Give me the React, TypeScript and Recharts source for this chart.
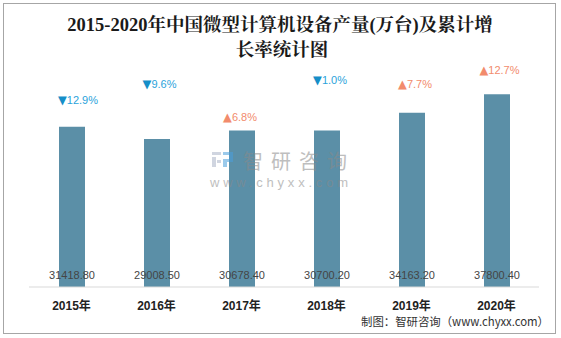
import React from 'react';
import { BarChart, Bar, XAxis, YAxis, LabelList } from 'recharts';

// ---- data ----
const years = ['2015年', '2016年', '2017年', '2018年', '2019年', '2020年'];
const output = [31418.8, 29008.5, 30678.4, 30700.2, 34163.2, 37800.4];
const growth = [-12.9, -9.6, 6.8, -1.0, 7.7, 12.7];
const yMax = 40000;

const data = years.map((y, i) => ({ year: y, output: output[i], growth: growth[i] }));

// ---- layout / style ----
const W = 561;
const H = 338;
const BAR_COLOR = '#5b8fa7';
const UP_COLOR = '#f28b6c';
const DOWN_TEXT = '#2ba3db';
const DOWN_TRI = '#168ec8';
const GROWTH_LIFT = [27, 55, 14, 50, 29, 24];
const GROWTH_SHIFT = [6, 2.5, -2, 3, 3, 2.5];
const SANS = "'Liberation Sans', 'DejaVu Sans', 'Noto Sans CJK SC', sans-serif";

const YearTick = (props: any) => {
  const { x, y, payload } = props;
  return (
    <text x={x} y={y + 19} textAnchor="middle" dominantBaseline="central"
      fontFamily="'Liberation Sans', 'Noto Sans CJK SC', sans-serif" fontWeight="bold" fontSize={12} fill="#222">
      {payload.value}
    </text>
  );
};

const ValueLabel = (props: any) => {
  const { x, y, width, height, value } = props;
  return (
    <text x={x + width / 2} y={y + height - 12.5} textAnchor="middle" dominantBaseline="central"
      fontFamily={SANS} fontSize={11} fill="#454545">
      {Number(value).toFixed(2)}
    </text>
  );
};

const GrowthLabel = (props: any) => {
  const { x, y, width, value, index } = props;
  const v = Number(value);
  const up = v >= 0;
  const cx = x + width / 2 + (GROWTH_SHIFT[index] ?? 0);
  const cy = y - (GROWTH_LIFT[index] ?? 20);
  return (
    <text x={cx} y={cy} textAnchor="middle" dominantBaseline="central" fontFamily={SANS} fontSize={11}>
      <tspan fill={up ? UP_COLOR : DOWN_TRI} fontFamily="'DejaVu Sans', sans-serif" fontSize={11.5}>{up ? '▲' : '▼'}</tspan>
      <tspan fill={up ? UP_COLOR : DOWN_TEXT}>{Math.abs(v).toFixed(1) + '%'}</tspan>
    </text>
  );
};

export default function App() {
  return (
    <div style={{ position: 'absolute', left: 0, top: 0, width: W, height: H, background: '#fff' }}>
      <BarChart width={W} height={H} data={data} margin={{ top: 83, right: 22, bottom: 21, left: 29 }}>
        <XAxis dataKey="year" height={30} tickLine={false} tickSize={0} tickMargin={0}
          axisLine={{ stroke: '#d9d9d9', strokeWidth: 1 }} tick={<YearTick />} interval={0} />
        <YAxis hide domain={[0, yMax]} />
        <Bar dataKey="output" fill={BAR_COLOR} barSize={26} isAnimationActive={false}>
          <LabelList dataKey="output" content={<ValueLabel />} />
          <LabelList dataKey="growth" content={<GrowthLabel />} />
        </Bar>
      </BarChart>
      <svg width={W} height={H} style={{ position: 'absolute', left: 0, top: 0, pointerEvents: 'none' }}>
        <rect x={3.5} y={3.5} width={552} height={330} fill="none" stroke="#a6a6a6" strokeWidth={1} />
        <g fontFamily="'Liberation Serif', 'Noto Serif CJK SC', 'Noto Sans CJK SC', serif" fontWeight="bold" fontSize={18.5} fill="#1a1a1a" textAnchor="middle">
          <text x={280} y={25} dominantBaseline="central">2015-2020年中国微型计算机设备产量(万台)及累计增</text>
          <text x={282} y={50} dominantBaseline="central">长率统计图</text>
        </g>
        <g opacity={0.55}>
          <rect x={212} y={152} width={9} height={3} fill="#aab4c8" />
          <rect x={212} y={157} width={4} height={10} fill="#aab4c8" />
          <rect x={217} y={160} width={4} height={3} fill="#aab4c8" />
          <rect x={223} y={152} width={10} height={3} fill="#4a9fdc" />
          <rect x={229} y={155} width={4} height={4} fill="#4a9fdc" />
          <rect x={223} y={159} width={10} height={3} fill="#4a9fdc" />
          <rect x={223} y={162} width={4} height={5} fill="#4a9fdc" />
          <text x={243} y={160} dominantBaseline="central" fontFamily="'Noto Sans CJK SC', sans-serif" fontSize={20}
            textLength={104} lengthAdjust="spacing" fill="#8a8a8a">智研咨询</text>
          <text x={210} y={182} dominantBaseline="central" fontFamily={SANS} fontSize={13}
            textLength={138} lengthAdjust="spacing" fill="#8a8a8a">www.chyxx.com</text>
        </g>
        <text x={361} y={321} dominantBaseline="central" fontFamily="'Noto Sans CJK SC', sans-serif" fontSize={11.5}
          textLength={188} lengthAdjust="spacingAndGlyphs" fill="#333">制图：智研咨询（www.chyxx.com）</text>
      </svg>
    </div>
  );
}
